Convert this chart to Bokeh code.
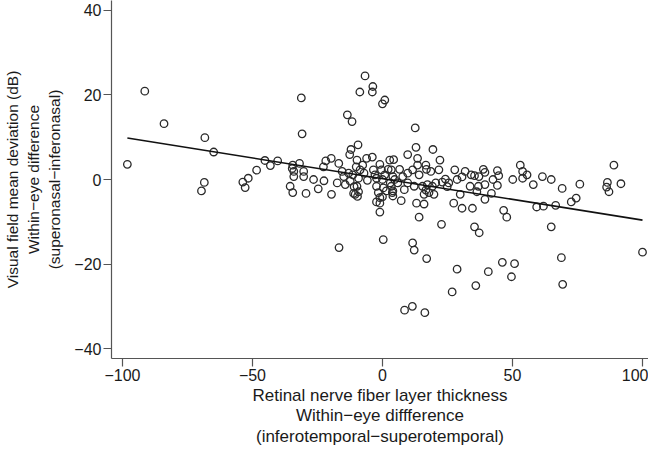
import numpy as np
from bokeh.plotting import figure
from bokeh.models import Range1d, FixedTicker
from bokeh.embed import file_html
from bokeh.resources import INLINE

# Within-eye RNFL thickness difference (inferotemporal - superotemporal)
rnfl_diff = [
    -98.1, -91.4, -84.0, -69.6, -68.5, -68.3, -64.9, -53.7, -52.8, -51.6,
    -48.4, -45.2, -43.1, -40.3, -35.5,
    -30.9, -31.2, -9.4, -12.1, -12.6, -34.5, -31.9, -34.7, -34.1, -34.1,
    -30.3, -30.3, -34.5, -29.4, -26.5, -24.7, -22.5, -22.7, -21.8, -19.7,
    -16.8, -19.6, -17.4, -15.5, -14.9, -13.0, -14.3, -12.4, -11.4, -10.9,
    -9.8, -10.1, -8.6, -9.2, -7.1, -6.1, -3.9, -7.6, -5.8, -9.8,
    -9.2, -10.5, -9.6, -11.1, -3.5, -2.9, -1.0, -2.3, -0.4, 0.9,
    0.0, 2.8, 4.3, 3.4, 4.0, -2.3, 0.3, 1.5, -1.6, -1.0,
    -2.3, -1.0, 0.0, -1.0, 3.0, 3.8,
    -6.7, -3.7, -3.9, -8.7, 0.9, 0.0, -13.5, -11.7, 12.6,
    12.9, 19.4, 9.7, 13.5, 22.1, 13.5, 16.7, 16.9, 11.6, 9.7,
    6.6, 2.2, 7.8, 14.1, 18.6, 21.7, 27.8, 31.8, 34.1, 35.4,
    37.1, 38.8, 39.4, 42.5, 30.6, 28.7, 24.2, 23.0, 25.5, 24.9,
    20.5, 19.2, 17.3, 15.4, 16.7, 17.9, 19.8, 16.0, 12.2, 9.7,
    5.9, 4.7, 3.4, 4.0, 4.0, 8.4, 7.2, 33.7, 36.9, 39.4,
    36.3, 41.9, 29.9, 39.4, 27.4, 30.6, 34.6, 13.1, 16.0, 14.1,
    44.2, 44.7, 44.2, 53.0, 53.9, 55.6, 53.9, 50.1, 58.0, 61.5,
    64.9, 69.1, 75.9, 89.0, 86.5, 86.2, 87.1, 91.7, 74.5, 72.6,
    59.3, 61.9, 66.6, 46.6, 47.8,
    -16.7, 0.3, 11.6, 12.2, 17.0, 28.7, 26.8, 8.5, 11.5, 16.3,
    22.7, 35.4, 37.2, 64.9, 100.0, 46.1, 50.8, 40.7, 49.6, 35.9,
    68.8, 69.3,
]

# Within-eye visual field MD difference (superonasal - inferonasal), dB
md_diff = [
    3.6, 20.9, 13.2, -2.7, -0.7, 9.9, 6.5, -0.6, -1.9, 0.3,
    2.2, 4.5, 3.3, 4.4, -1.6,
    10.8, 19.3, 8.2, 7.1, 5.9, 3.4, 3.8, 2.6, 1.9, 0.7,
    1.9, 0.7, -3.1, -3.3, 0.0, -2.2, -0.3, 3.0, 4.4, 5.0,
    3.8, -3.5, -0.8, 1.9, 0.7, 1.5, -1.2, -0.4, 1.1, -1.7,
    4.6, 3.0, 2.3, 0.3, 1.5, 5.0, 5.3, 3.4, -0.2, -1.6,
    -2.9, -3.5, -4.0, -3.3, 2.3, 1.1, 3.6, 0.3, 2.3, 1.1,
    0.0, 4.6, 4.7, 2.3, 0.7, -1.6, -2.0, -2.7, -3.1, -4.3,
    -5.3, -5.6, -4.1, -7.7, -0.8, -3.1,
    24.5, 22.0, 20.7, 20.7, 18.8, 17.9, 15.3, 13.7, 12.2,
    7.6, 7.1, 5.9, 5.0, 4.6, 3.4, 3.4, 2.4, 2.3, 1.5,
    2.4, 2.4, 0.7, 1.1, 1.9, 2.3, 2.3, 1.9, 1.1, 0.9,
    0.7, 2.4, 1.7, 0.0, 0.6, 0.0, 0.1, -0.6, -0.8, -1.7,
    -0.8, -1.6, -1.2, -1.6, -2.5, -3.1, -3.5, -3.5, -1.6, -0.8,
    -0.8, 0.0, -1.6, -2.7, -3.9, -2.4, -5.0, -1.6, -1.6, -1.2,
    -2.9, -3.3, -3.5, -4.7, -5.6, -6.8, -6.8, -5.6, -5.8, -8.9,
    2.1, 0.9, -1.4, 3.4, 1.9, 1.1, 0.3, 0.0, -1.2, 0.7,
    0.0, -2.1, -1.1, 3.4, -0.7, -1.8, -2.9, -1.0, -4.4, -5.3,
    -6.5, -6.3, -6.1, -7.3, -8.9,
    -16.1, -14.2, -15.0, -16.7, -18.7, -21.2, -26.6, -30.9, -30.0, -31.5,
    -10.6, -11.2, -12.6, -11.2, -17.2, -19.6, -19.9, -21.8, -23.0, -25.1,
    -18.5, -24.8,
]

# Fitted regression line
fit_intercept = 0.2
fit_slope = -0.098

x_ticks = [-100, -50, 0, 50, 100]
y_ticks = [-40, -20, 0, 20, 40]

x_title = "Retinal nerve fiber layer thickness\nWithin\u2212eye diffference\n(inferotemporal\u2212superotemporal)"
y_title = "Visual field mean deviation (dB)\nWithin\u2212eye difference\n(superonasal\u2212inferonasal)"

FONT = "Liberation Sans"

p = figure(width=648, height=449, output_backend="svg", toolbar_location=None,
           x_range=Range1d(-104.2, 102.3), y_range=Range1d(-42.34, 42.34),
           min_border_left=103, min_border_bottom=87, min_border_top=0,
           min_border_right=0)
p.outline_line_color = None
p.grid.visible = False
p.background_fill_color = "white"
p.border_fill_color = "white"

p.scatter(rnfl_diff, md_diff, marker="circle", size=7.5, fill_color=None,
          line_color="#2a2a2a", line_width=1.3)

xf = np.array([min(rnfl_diff), max(rnfl_diff)])
p.line(xf, fit_intercept + fit_slope * xf, line_color="#111111", line_width=1.6)

def lab(v):
    return ("\u2212" + str(abs(v))) if v < 0 else str(v)

p.xaxis.ticker = FixedTicker(ticks=x_ticks)
p.yaxis.ticker = FixedTicker(ticks=y_ticks)
p.xaxis.major_label_overrides = {v: lab(v) for v in x_ticks}
p.yaxis.major_label_overrides = {v: lab(v) for v in y_ticks}

for ax in (p.xaxis[0], p.yaxis[0]):
    ax.minor_tick_line_color = None
    ax.major_tick_in = 0
    ax.major_tick_out = 8
    ax.major_tick_line_color = "#555555"
    ax.axis_line_color = "#555555"
    ax.axis_line_width = 1.2
    ax.major_tick_line_width = 1.2
    ax.major_label_text_font = FONT
    ax.major_label_text_font_size = "16px"
    ax.major_label_text_color = "#1a1a1a"
    ax.axis_label_text_font = FONT
    ax.axis_label_text_font_style = "normal"
    ax.axis_label_text_color = "#1a1a1a"

p.xaxis.major_label_standoff = 2
p.xaxis.axis_label_standoff = 2
p.xaxis.axis_label_text_font_size = "17px"
p.xaxis.axis_label_text_line_height = 1.1
p.yaxis.major_label_standoff = 2
p.yaxis.axis_label_standoff = 8
p.yaxis.axis_label_text_font_size = "15.5px"
p.yaxis.axis_label_text_line_height = 1.25

p.xaxis.axis_label = x_title
p.yaxis.axis_label = y_title

open("out.html", "w").write(file_html(p, INLINE))
